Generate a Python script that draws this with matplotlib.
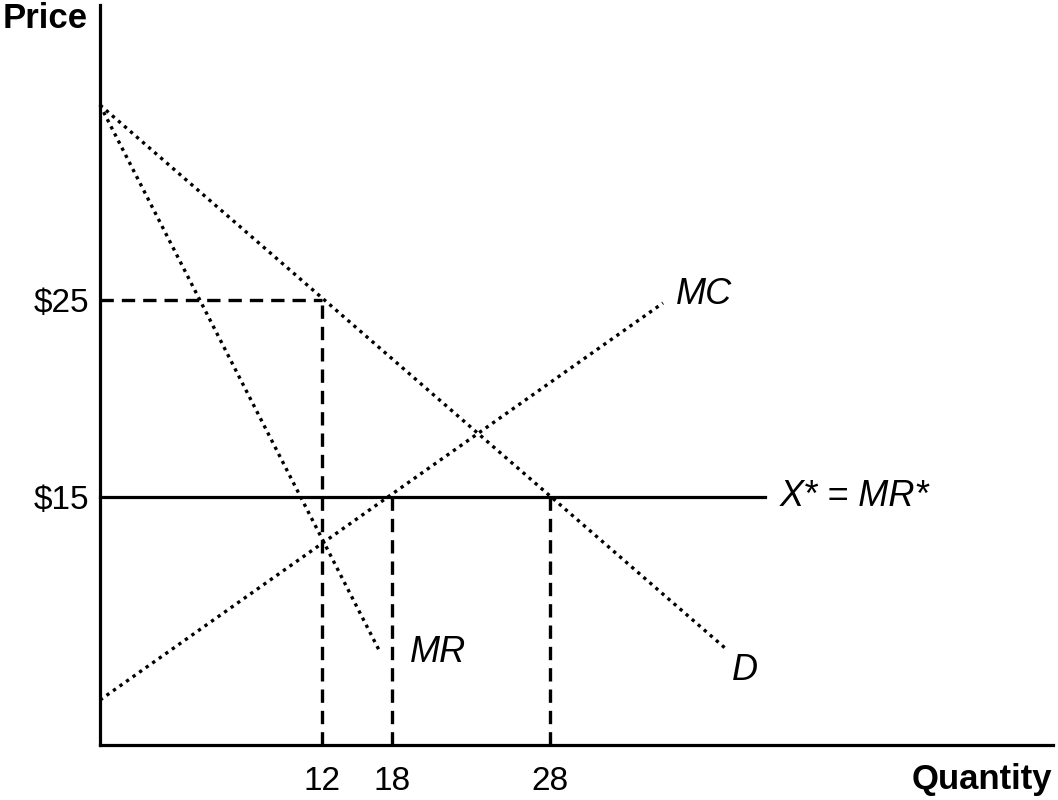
import matplotlib
matplotlib.use('Agg')
import matplotlib.pyplot as plt

plt.rcParams['font.family'] = ['Liberation Sans', 'DejaVu Sans']

# schematic diagram: positions are in drawing units (not to scale), labels carry the values
Q_LABELS = ['12', '18', '28']
Q_POS = [222, 292, 450]
P_LABELS = ['$25', '$15']
P_POS = [445, 248]

D_X, D_Y = [0, 625], [640, 97]        # demand
MR_X, MR_Y = [0, 280], [640, 93]      # marginal revenue
MC_X, MC_Y = [0, 563], [45, 442]      # marginal cost
XSTAR_X = [0, 665]                    # X* = MR* at $15

DOT = (0, (1, 1.4))
DASH = (0, (4, 2.4))

fig = plt.figure(figsize=(10.58, 8), dpi=100)
ax = fig.add_axes([100 / 1058, 55 / 800, 953 / 1058, 740 / 800])
ax.set_xlim(0, 953)
ax.set_ylim(0, 740)
for s in ['top', 'right']:
    ax.spines[s].set_visible(False)
for s in ['left', 'bottom']:
    ax.spines[s].set_linewidth(2.3)

ax.set_xticks(Q_POS)
ax.set_xticklabels(Q_LABELS, fontsize=24)
ax.set_yticks(P_POS)
ax.set_yticklabels(P_LABELS, fontsize=24)
ax.tick_params(axis='x', length=0, pad=15)
ax.tick_params(axis='y', length=0, pad=8)

kw = dict(color='black', clip_on=False)
ax.plot(D_X, D_Y, linestyle=DOT, lw=2.4, **kw)
ax.plot(MR_X, MR_Y, linestyle=DOT, lw=2.4, **kw)
ax.plot(MC_X, MC_Y, linestyle=DOT, lw=2.4, **kw)
ax.plot(XSTAR_X, [P_POS[1]] * 2, lw=2.3, **kw)

# guide lines
ax.plot([0, Q_POS[0]], [P_POS[0]] * 2, linestyle=DASH, lw=2.4, **kw)
ax.plot([Q_POS[0]] * 2, [0, P_POS[0]], linestyle=DASH, lw=2.4, **kw)
for q in Q_POS[1:]:
    ax.plot([q, q], [0, P_POS[1]], linestyle=DASH, lw=2.4, **kw)

lab = dict(fontsize=26, style='italic', va='center', clip_on=False)
ax.text(MC_X[1] + 13, MC_Y[1] + 9, 'MC', ha='left', **lab)
ax.text(D_X[1] + 7, D_Y[1] - 22, 'D', ha='left', **lab)
ax.text(MR_X[1] + 30, MR_Y[1], 'MR', ha='left', **lab)
ax.text(XSTAR_X[1] + 15, P_POS[1], 'X* = MR*', ha='left', **lab)

fig.text(3 / 1058, 1 - 19 / 800, 'Price', fontsize=25, fontweight='bold', ha='left', va='center')
fig.text(1052 / 1058, 1 - 780 / 800, 'Quantity', fontsize=25, fontweight='bold', ha='right', va='center')

fig.savefig('out.png', dpi=100)
